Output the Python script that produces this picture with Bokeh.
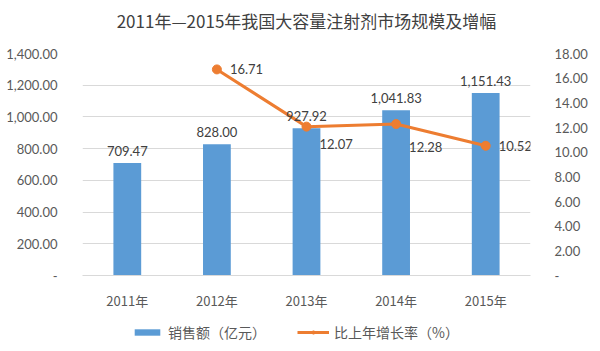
from bokeh.plotting import figure
from bokeh.layouts import column
from bokeh.models import (ColumnDataSource, Range1d, LinearAxis, FixedTicker, LabelSet, Label,
                          Legend, LegendItem, FactorRange)
from bokeh.core.properties import value
from bokeh.embed import file_html
from bokeh.resources import INLINE

# ---- data ----
years = ["2011年", "2012年", "2013年", "2014年", "2015年"]
sales = [709.47, 828.00, 927.92, 1041.83, 1151.43]
sales_labels = ["709.47", "828.00", "927.92", "1,041.83", "1,151.43"]
rate_years = ["2012年", "2013年", "2014年", "2015年"]
rate = [16.71, 12.07, 12.28, 10.52]
rate_labels = ["16.71", "12.07", "12.28", "10.52"]
left_ticks = [0, 200, 400, 600, 800, 1000, 1200, 1400]
left_tick_labels = ["-", "200.00", "400.00", "600.00", "800.00", "1,000.00", "1,200.00", "1,400.00"]
right_ticks = [0, 2, 4, 6, 8, 10, 12, 14, 16, 18]
right_tick_labels = ["-", "2.00", "4.00", "6.00", "8.00", "10.00", "12.00", "14.00", "16.00", "18.00"]
legend_labels = ["销售额（亿元）", "比上年增长率（%）"]
title_text = "2011年—2015年我国大容量注射剂市场规模及增幅"

# label placement (style, not data)
rate_label_dy = [0, -17, -23, 0]

BLUE = "#5B9BD5"
ORANGE = "#ED7D31"
TXT = "#595959"
FONT = "Lato"
CJK = "Noto Sans CJK SC"

# ---- title strip ----
tf = figure(width=600, height=40, output_backend="svg", toolbar_location=None,
            x_range=Range1d(0, 1), y_range=Range1d(0, 1),
            min_border=0, outline_line_color=None)
tf.axis.visible = False
tf.grid.visible = False
tf.add_layout(Label(x=0.5, y=0.5, text=title_text, text_align="center", text_baseline="middle",
                    text_font=CJK, text_font_size="17px", text_color="#404040"))

# ---- main chart ----
p = figure(width=600, height=272, x_range=FactorRange(*years), y_range=Range1d(0, 1400),
           output_backend="svg", toolbar_location=None,
           min_border_left=82, min_border_right=70, min_border_top=13, min_border_bottom=30)
p.x_range.range_padding = 0
p.extra_y_ranges = {"rate": Range1d(0, 18)}

p.outline_line_color = None
p.xgrid.grid_line_color = None
p.ygrid.grid_line_color = "#D9D9D9"
p.ygrid.ticker = FixedTicker(ticks=left_ticks)

# left axis
ya = p.yaxis[0]
ya.ticker = FixedTicker(ticks=left_ticks)
ya.major_label_overrides = {t: l for t, l in zip(left_ticks, left_tick_labels)}
ya.axis_line_color = None
ya.major_tick_line_color = None
ya.minor_tick_line_color = None
ya.major_label_standoff = 19
ya.major_label_text_font = FONT
ya.major_label_text_font_size = "13px"
ya.major_label_text_color = TXT

# right axis
ra = LinearAxis(y_range_name="rate", ticker=FixedTicker(ticks=right_ticks))
ra.major_label_overrides = {t: l for t, l in zip(right_ticks, right_tick_labels)}
ra.axis_line_color = None
ra.major_tick_line_color = None
ra.minor_tick_line_color = None
ra.major_label_standoff = 18
ra.major_label_text_font = FONT
ra.major_label_text_font_size = "13px"
ra.major_label_text_color = TXT
p.add_layout(ra, "right")

# x axis
xa = p.xaxis[0]
xa.axis_line_color = "#D9D9D9"
xa.major_tick_line_color = None
xa.minor_tick_line_color = None
xa.major_label_standoff = 9
xa.major_label_text_font = CJK
xa.major_label_text_font_size = "13px"
xa.major_label_text_color = TXT

bar_src = ColumnDataSource(dict(x=years, top=sales, lab=sales_labels))
p.vbar(x="x", top="top", width=0.31, source=bar_src, fill_color=BLUE, line_color=None)
p.add_layout(LabelSet(x="x", y="top", text="lab", source=bar_src, y_offset=7,
                      text_align="center", text_baseline="bottom",
                      text_font=value(FONT), text_font_size="13px", text_color="#404040"))

line_src = ColumnDataSource(dict(x=rate_years, y=rate, lab=rate_labels, dy=rate_label_dy))
p.line(x="x", y="y", source=line_src, y_range_name="rate", line_color=ORANGE, line_width=3)
p.scatter(x="x", y="y", source=line_src, y_range_name="rate", size=9,
          fill_color=ORANGE, line_color=ORANGE)
p.add_layout(LabelSet(x="x", y="y", text="lab", source=line_src, y_range_name="rate",
                      x_offset=13, y_offset="dy", text_align="left", text_baseline="middle",
                      text_font=value(FONT), text_font_size="13px", text_color="#404040"))

# ---- legend strip ----
lg = figure(width=600, height=39, output_backend="svg", toolbar_location=None,
            x_range=Range1d(0, 1), y_range=Range1d(0, 1),
            min_border=0, outline_line_color=None)
lg.axis.visible = False
lg.grid.visible = False
# off-canvas placeholder glyphs, only used to draw the legend swatches
dummy = ColumnDataSource(dict(x=[-5, -4], y=[-5, -5], top=[-5, -5]))
r_bar = lg.vbar(x="x", top="top", width=0.5, source=dummy, fill_color=BLUE, line_color=None)
r_ln = lg.line(x="x", y="y", source=dummy, line_color=ORANGE, line_width=3)
r_mk = lg.scatter(x="x", y="y", source=dummy, size=8, fill_color=ORANGE, line_color=ORANGE)
legend = Legend(items=[LegendItem(label=legend_labels[0], renderers=[r_bar]),
                       LegendItem(label=legend_labels[1], renderers=[r_ln, r_mk])],
                orientation="horizontal", location=(49, 9),
                label_text_font=CJK, label_text_font_size="14px", label_text_color=TXT,
                border_line_color=None, background_fill_alpha=0,
                glyph_width=32, glyph_height=8, spacing=31, padding=2, margin=0,
                label_standoff=5)
lg.add_layout(legend, "center")

layout = column(tf, p, lg, spacing=0)
open("out.html", "w").write(file_html(layout, INLINE))
